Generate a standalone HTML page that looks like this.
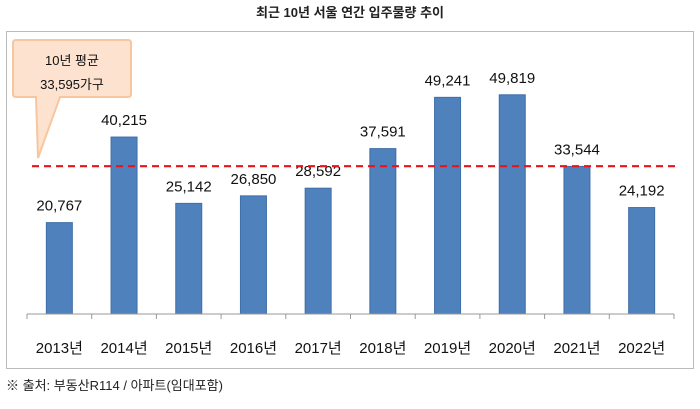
<!DOCTYPE html>
<html><head><meta charset="utf-8"><style>
body{margin:0;background:#fff;width:700px;height:404px;overflow:hidden;font-family:"Liberation Sans","Noto Sans CJK KR",sans-serif}
svg text{font-family:"Liberation Sans","Noto Sans CJK KR",sans-serif}
</style></head><body>
<svg width="700" height="404">
<text x="350" y="17" text-anchor="middle" font-size="13" font-weight="bold" fill="#222">최근 10년 서울 연간 입주물량 추이</text>
<rect x="6.5" y="31.5" width="687" height="337" fill="#fff" stroke="#bbb"/>
<g id="bars"></g>
<line x1="27" y1="314" x2="674" y2="314" stroke="#999"/>
<g id="ticks"></g>
<line id="avg" x1="32" x2="680" stroke="#e8131b" stroke-width="2.2" stroke-dasharray="7,5"/>
<path d="M13,43 Q13,40 16,40 L128,40 Q131,40 131,43 L131,94 Q131,97 128,97 L60,97 L38,158 L36,97 L16,97 Q13,97 13,94 Z" fill="#fde3cf" stroke="#f8c69e" stroke-width="2"/>
<text x="72" y="65" text-anchor="middle" font-size="13" fill="#111">10년 평균</text>
<text x="72" y="89" text-anchor="middle" font-size="13" fill="#111">33,595가구</text>
<text x="6" y="390" font-size="13" fill="#222">※ 출처: 부동산R114 / 아파트(임대포함)</text>
</svg>
<script>
const categories=["2013년","2014년","2015년","2016년","2017년","2018년","2019년","2020년","2021년","2022년"];
const values=[20767,40215,25142,26850,28592,37591,49241,49819,33544,24192];
const valueLabels=["20,767","40,215","25,142","26,850","28,592","37,591","49,241","49,819","33,544","24,192"];
const average=[33595];
const NS="http://www.w3.org/2000/svg";
const x0=27,step=64.7,base=314,k=0.0044,bw=26;
const y=v=>base-v*k, xc=i=>x0+step*(i+0.5);
const g=document.getElementById('bars'),t=document.getElementById('ticks');
values.forEach((v,i)=>{
 const r=document.createElementNS(NS,'rect');
 r.setAttribute('x',xc(i)-bw/2);r.setAttribute('y',y(v));r.setAttribute('width',bw);r.setAttribute('height',base-y(v));
 r.setAttribute('fill','#4f81bd');r.setAttribute('stroke','#3f6fa8');
 
 
 g.appendChild(r);
 const l=document.createElementNS(NS,'text');
 l.setAttribute('x',xc(i));l.setAttribute('y',y(v)-12);l.setAttribute('text-anchor','middle');l.setAttribute('font-size','15');l.setAttribute('fill','#111');
 l.textContent=valueLabels[i];
 
 
 g.appendChild(l);
 const c=document.createElementNS(NS,'text');
 c.setAttribute('x',xc(i));c.setAttribute('y',353);c.setAttribute('text-anchor','middle');c.setAttribute('font-size','15');c.setAttribute('fill','#111');
 c.textContent=categories[i];
 
 
 t.appendChild(c);
});
for(let i=0;i<=categories.length;i++){
 const tk=document.createElementNS(NS,'line');
 tk.setAttribute('x1',x0+step*i);tk.setAttribute('x2',x0+step*i);tk.setAttribute('y1',base);tk.setAttribute('y2',base+5);tk.setAttribute('stroke','#999');
 
 
 t.appendChild(tk);
}
const a=document.getElementById('avg');a.setAttribute('y1',y(average[0]));a.setAttribute('y2',y(average[0]));
</script>
</body></html>
